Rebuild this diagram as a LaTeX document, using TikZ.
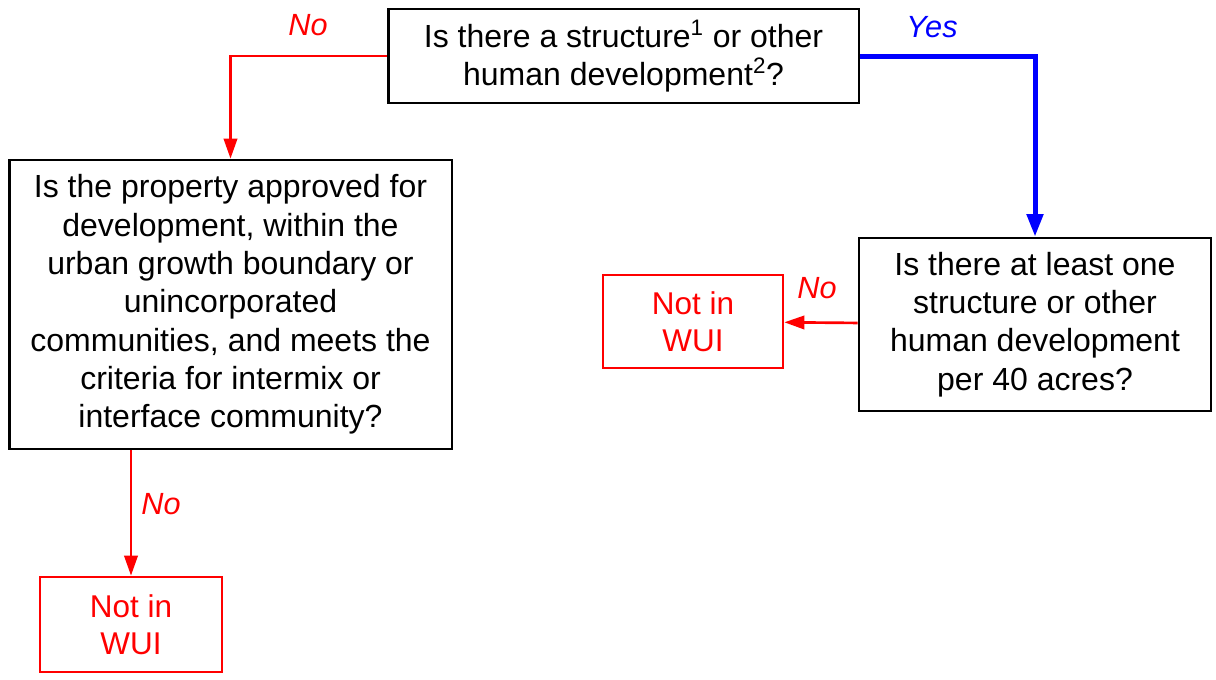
\documentclass[tikz,border=0pt]{standalone}
\usepackage{fontspec}
\setmainfont{Liberation Sans}
\usetikzlibrary{arrows.meta,positioning,calc}
\tikzset{
  qbox/.style={draw=black,line width=2pt,align=center,font=\fontsize{24}{28.7}\selectfont},
  notbox/.style={draw=red,text=red,line width=2pt,align=center,font=\fontsize{23.6}{27.8}\selectfont},
  nolink/.style={draw=red,line width=2pt,-{Triangle[length=15pt,width=10pt]}},
  yeslink/.style={draw=blue,line width=3.75pt,-{Triangle[length=17pt,width=12pt]}},
  answer/.style={font=\fontsize{23}{26}\selectfont\itshape}
}

\begin{document}
\begin{tikzpicture}[x=0.75pt,y=-0.75pt]
      \useasboundingbox (0,0) rectangle (1216,679);
      % questions
      \node[qbox,minimum width=353pt,minimum height=70.5pt] at (623.5,56) (q1) {Is there a structure\textsuperscript{1} or other\\human development\textsuperscript{2}?};
      \node[qbox,minimum width=332pt,minimum height=216.75pt] at (230.5,304.5) (q2) {Is the property approved for\\development, within the\\urban growth boundary or\\unincorporated\\communities, and meets the\\criteria for intermix or\\interface community?};
      \node[qbox,minimum width=264pt,minimum height=129.75pt] at (1035,324.5) (q3) {Is there at least one\\structure or other\\human development\\per 40 acres?};
      % outcomes
      \node[notbox,minimum width=135pt,minimum height=69.75pt] at (693,321.5) (notr) {Not in\\WUI};
      \node[notbox,minimum width=136.5pt,minimum height=71.25pt] at (131,624.5) (notl) {Not in\\WUI};
      % links
      \draw[nolink] (q1.west) -| (q2.north);
      \draw[yeslink] (q1.east) -| (q3.north);
      \draw[nolink] (q3) -- (notr);
      \draw[nolink] (notl.north |- q2.south) -- (notl.north);
      % answers
      \node[answer,text=red] at (308,25) (no1) {No};
      \node[answer,text=blue] at (932,27) (yes1) {Yes};
      \node[answer,text=red] at (817,288) (no2) {No};
      \node[answer,text=red] at (161,504) (no3) {No};
\end{tikzpicture}
\end{document}
